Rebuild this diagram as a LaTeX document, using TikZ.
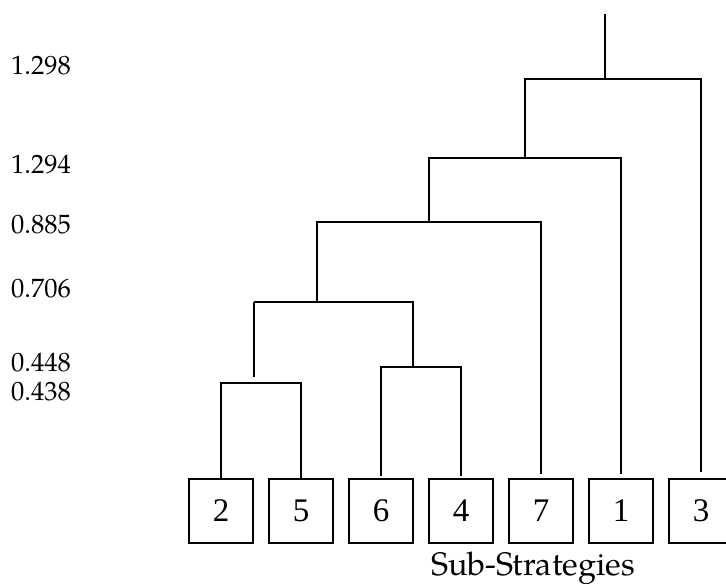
\documentclass[tikz,border=0pt]{standalone}
\usepackage{fontspec}
\setmainfont{texgyrepagella-regular.otf}
\newfontfamily\boxfont{Liberation Serif}
\begin{document}
\begin{tikzpicture}[x=1pt,y=-1pt,
  leafbox/.style={draw, line width=1.6pt, minimum width=64pt, minimum height=64pt,
    inner sep=0pt, font=\boxfont\fontsize{33}{33}\selectfont},
  link/.style={line width=1.6pt},
  level/.style={anchor=base west, inner sep=0pt, font=\fontsize{26.5}{26.5}\selectfont}]
  \useasboundingbox (0,0) rectangle (726,584);
  \clip (0,0) rectangle (726,584);

  % leaves
  \node[leafbox] (b2) at (221,511) {2};
  \node[leafbox] (b5) at (301,511) {5};
  \node[leafbox] (b6) at (381,511) {6};
  \node[leafbox] (b4) at (461,511) {4};
  \node[leafbox] (b7) at (541,511) {7};
  \node[leafbox] (b1) at (621,511) {1};
  \node[leafbox] (b3) at (701,511) {3};

  % merge heights
  \coordinate (m25) at (254,383);
  \coordinate (m64) at (413,367);
  \coordinate (m2564) at (317,302);
  \coordinate (m7) at (429,222);
  \coordinate (m1) at (525,158);
  \coordinate (m3) at (605,79);
  \coordinate (top) at (605,14);

  % clusters {2,5} and {6,4}
  \draw[link] (b2.north) -- (b2.north |- m25) -- (b5.north |- m25) -- (b5.north);
  \draw[link, shorten <=2pt] (b6.north) -- (b6.north |- m64) -- (b4.north |- m64) -- ([yshift=2pt]b4.north);
  \draw[link] ([yshift=6pt]m25) -- (m25 |- m2564);
  \draw[link] (m25 |- m2564) -- (m64 |- m2564) -- (m64);
  % adding 7
  \draw[link] (m2564) -- (m2564 |- m7) -- (b7.north |- m7) -- ([yshift=4pt]b7.north);
  % adding 1
  \draw[link] (m7) -- (m7 |- m1) -- (b1.north |- m1) -- ([yshift=4pt]b1.north);
  % adding 3
  \draw[link] (m1) -- (m1 |- m3) -- (b3.north |- m3) -- ([yshift=6pt]b3.north);
  \draw[link] (m3) -- (top);

  % distance scale
  \node[level] (l1) at (11,74) {1.298};
  \node[level] (l2) at (11,173) {1.294};
  \node[level] (l3) at (11,233) {0.885};
  \node[level] (l4) at (11,297) {0.706};
  \node[level] (l5) at (11,371) {0.448};
  \node[level] (l6) at (11,400) {0.438};

  \node[anchor=base, inner sep=0pt, font=\fontsize{32.5}{32.5}\selectfont] (cap) at (533,575) {Sub-Strategies};
\end{tikzpicture}
\end{document}
